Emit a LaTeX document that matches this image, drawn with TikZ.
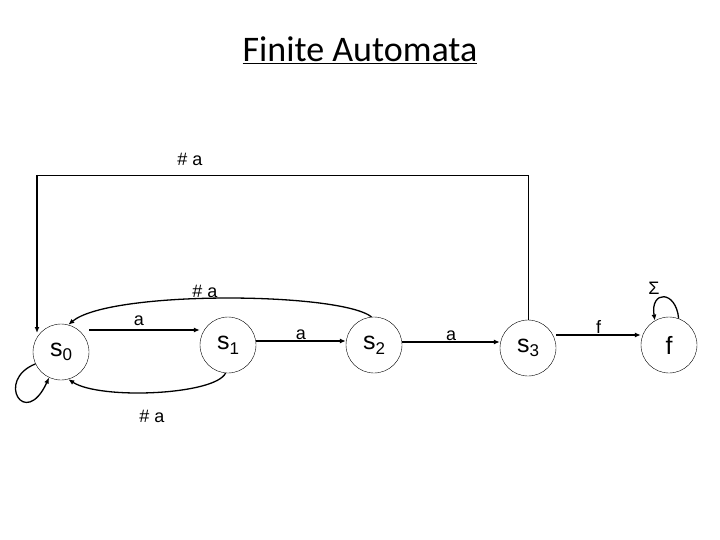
\documentclass[tikz,border=0pt]{standalone}
\usepackage{fontspec}
\setmainfont{Liberation Sans}
\newfontfamily\titlefont{Carlito}
\usetikzlibrary{arrows.meta}
\newcommand{\sbs}[1]{\raisebox{-0.35ex}{\fontsize{17}{19}\selectfont #1}}
\begin{document}
\begin{tikzpicture}[x=1pt,y=-1pt,
  st/.style={circle,draw,thin,minimum size=56pt,inner sep=0pt,font=\fontsize{25}{27}\selectfont},
  ed/.style={-{Latex[length=6pt,width=5pt]},line width=1.3pt},
  lb/.style={font=\fontsize{18}{20}\selectfont,inner sep=1pt}]
\useasboundingbox (0,0) rectangle (720,540);
\node[font=\titlefont\fontsize{36}{40}\selectfont] (title) at (360,50) {\underline{Finite Automata}};
\node[st] (s0) at (61,352) {s\sbs{0}};
\node[st] (s1) at (228,345) {s\sbs{1}};
\node[st] (s2) at (374,345) {s\sbs{2}};
\node[st] (s3) at (528,348) {s\sbs{3}};
\node[st] (f) at (669,345) {f};
\coordinate (tl) at (37,175);
\coordinate (tr) at (528,175);
\draw[thin] (s3.north) -- (tr) -- (tl);
\draw[ed] (tl) -- (37,333);
\draw[ed] (s0.east |- 0,330) -- node[lb,above,pos=0.45,yshift=3pt]{a} (s1.west |- 0,330);
\draw[ed] (s1.east |- 0,341) -- node[lb,above]{a} (s2.west |- 0,341);
\draw[ed] (s2.east |- 0,342) -- node[lb,above]{a} (s3.west |- 0,342);
\draw[ed] (s3.east |- 0,335) -- node[lb,above]{f} (f.west |- 0,335);
\draw[ed] (s2.95) .. controls (340,292) and (110,290) .. (s0.75);
\node[lb] (l1) at (205,291) {\# a};
\draw[ed] (s1.265) .. controls (215,395) and (100,400) .. (s0.285);
\node[lb] (l2) at (152,416) {\# a};
\node[lb] (l3) at (190,159) {\# a};
\draw[ed] (s0.205) .. controls (-5,380) and (25,430) .. (s0.245);
\draw[ed] (f.70) .. controls (676,290) and (650,290) .. (f.120);
\node[lb] (sig) at (654,288) {Σ};
\end{tikzpicture}
\end{document}
